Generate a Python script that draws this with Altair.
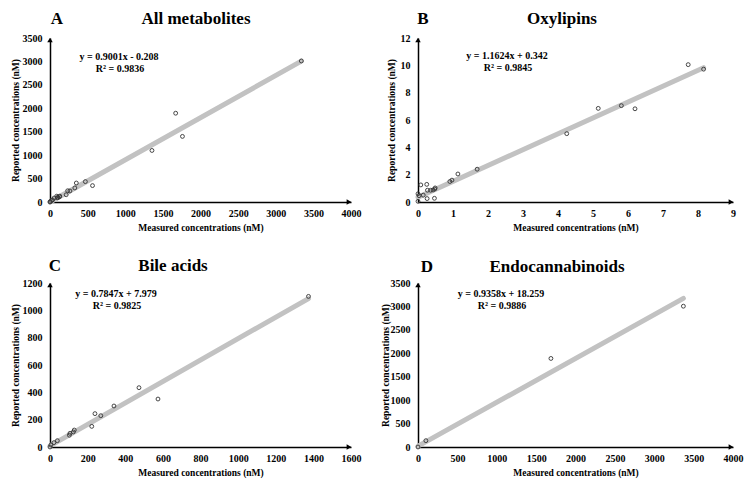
import altair as alt
import pandas as pd

FONT = "Liberation Serif"

# ---------------- data ----------------
# A: All metabolites
a_x = [0, 5, 20, 35, 55, 90, 100, 105, 125, 130, 215, 235, 265, 330, 350, 470, 565, 1355, 1670, 1760, 3340]
a_y = [0, 10, 30, 45, 85, 125, 90, 100, 110, 125, 155, 240, 235, 300, 405, 435, 350, 1100, 1895, 1400, 3010]
# B: Oxylipins
b_x = [0.00, 0.00, 0.03, 0.08, 0.15, 0.25, 0.27, 0.26, 0.36, 0.43, 0.47, 0.48, 0.49, 0.91, 0.97, 1.14, 1.69,
       4.25, 5.15, 5.81, 6.20, 7.72, 8.16]
b_y = [0.05, 0.60, 0.46, 1.25, 0.50, 1.29, 0.86, 0.25, 0.86, 0.88, 0.27, 0.95, 1.03, 1.50, 1.60, 2.05, 2.40,
       5.00, 6.85, 7.05, 6.82, 10.05, 9.72]
# C: Bile acids
c_x = [0, 5, 21, 39, 103, 106, 124, 129, 222, 239, 270, 340, 473, 574, 1374]
c_y = [0, 15, 32, 46, 86, 100, 110, 124, 151, 244, 229, 300, 434, 351, 1102]
# D: Endocannabinoids
d_x = [0, 100, 1688, 3370]
d_y = [0, 135, 1890, 3005]

letters = ["A", "B", "C", "D"]
titles = ["All metabolites", "Oxylipins", "Bile acids", "Endocannabinoids"]
fit_slope = [0.9001, 1.1624, 0.7847, 0.9358]
fit_intercept = [-0.208, 0.342, 7.979, 18.259]
fit_xmax = [3340, 8.16, 1374, 3370]
eq_text = ["y = 0.9001x - 0.208", "y = 1.1624x + 0.342", "y = 0.7847x + 7.979", "y = 0.9358x + 18.259"]
r2_text = ["R\u00b2 = 0.9836", "R\u00b2 = 0.9845", "R\u00b2 = 0.9825", "R\u00b2 = 0.9886"]
x_max = [4000, 9, 1600, 4000]
y_max = [3500, 12, 1200, 3500]
x_ticks = [list(range(0, 4001, 500)), list(range(0, 10, 1)), list(range(0, 1601, 200)), list(range(0, 4001, 500))]
y_ticks = [list(range(0, 3501, 500)), list(range(0, 13, 2)), list(range(0, 1201, 200)), list(range(0, 3501, 500))]
x_title = "Measured concentrations (nM)"
y_title = "Reported concentrations (nM)"

points = [(a_x, a_y), (b_x, b_y), (c_x, c_y), (d_x, d_y)]

# layout helpers (pixel positions of annotations relative to each plot area)
widths = [301, 315, 301, 315]
H = 164
eq_pos = [(69, 19), (89, 18), (66, 11), (83, 11)]
title_pos = [(146, -19), (144, -19), (123, -17), (139, -16)]
letter_pos = [(7, -19), (5, -19), (5, -17), (9, -16)]
ytitle_x = [-35, -27, -35, -33]


def panel(i):
    px, py = points[i]
    xs = alt.Scale(domain=[0, x_max[i]], nice=False)
    ys = alt.Scale(domain=[0, y_max[i]], nice=False)
    xax = alt.Axis(values=x_ticks[i], tickCount=len(x_ticks[i]) + 5, format="d", title=x_title)
    yax = alt.Axis(values=y_ticks[i], tickCount=len(y_ticks[i]) + 5, format="d", title=y_title,
                   titleX=ytitle_x[i], titleY=H / 2, titleBaseline="middle", titleAlign="center")

    fit_df = pd.DataFrame({"x": [0, fit_xmax[i]], "m": [fit_slope[i]] * 2, "b": [fit_intercept[i]] * 2})
    fit = (
        alt.Chart(fit_df)
        .transform_calculate(y="datum.m * datum.x + datum.b")
        .mark_line(color="#c2c2c2", strokeWidth=5, strokeCap="round")
        .encode(x=alt.X("x:Q", scale=xs, axis=xax), y=alt.Y("y:Q", scale=ys, axis=yax))
    )
    pts = (
        alt.Chart(pd.DataFrame({"x": px, "y": py}))
        .mark_point(shape="circle", filled=False, size=15, color="#333333", strokeWidth=0.9, opacity=1)
        .encode(x=alt.X("x:Q", scale=xs), y=alt.Y("y:Q", scale=ys))
    )
    arr_x = (
        alt.Chart(pd.DataFrame({"x": [x_max[i]], "y": [0]}))
        .mark_point(shape="triangle-right", filled=True, size=30, color="black", opacity=1, xOffset=-2)
        .encode(x=alt.X("x:Q", scale=xs), y=alt.Y("y:Q", scale=ys))
    )
    arr_y = (
        alt.Chart(pd.DataFrame({"x": [0], "y": [y_max[i]]}))
        .mark_point(shape="triangle-up", filled=True, size=30, color="black", opacity=1, yOffset=2)
        .encode(x=alt.X("x:Q", scale=xs), y=alt.Y("y:Q", scale=ys))
    )
    ex, ey = eq_pos[i]
    txt = pd.DataFrame({"eq": [eq_text[i]], "r2": [r2_text[i]], "t": [titles[i]], "l": [letters[i]]})
    eq1 = alt.Chart(txt).mark_text(font=FONT, fontWeight="bold", fontSize=10, color="black",
                                   baseline="middle").encode(
        text="eq:N", x=alt.value(ex), y=alt.value(ey))
    eq2 = alt.Chart(txt).mark_text(font=FONT, fontWeight="bold", fontSize=10, color="black",
                                   baseline="middle").encode(
        text="r2:N", x=alt.value(ex + 1), y=alt.value(ey + 11.5))
    tx, ty = title_pos[i]
    ttl = alt.Chart(txt).mark_text(font=FONT, fontWeight="bold", fontSize=17, color="black",
                                   baseline="middle").encode(
        text="t:N", x=alt.value(tx), y=alt.value(ty))
    lx, ly = letter_pos[i]
    let = alt.Chart(txt).mark_text(font=FONT, fontWeight="bold", fontSize=17, color="black",
                                   baseline="middle").encode(
        text="l:N", x=alt.value(lx), y=alt.value(ly))
    return alt.layer(fit, pts, arr_x, arr_y, eq1, eq2, ttl, let).properties(width=widths[i], height=H)


chart = (
    alt.concat(*[panel(i) for i in range(4)], columns=2, spacing={"column": 67, "row": 81}, bounds="flush")
    .properties(
        autosize=alt.AutoSizeParams(type="none"),
        padding={"left": 50, "top": 38, "right": 699, "bottom": 441},
        background="white",
    )
    .configure_view(stroke=None)
    .configure_axis(
        domainColor="black",
        domainWidth=1.5,
        ticks=False,
        tickSize=0,
        grid=False,
        labelOverlap=False,
        labelFlush=False,
        labelFont=FONT,
        labelFontWeight="bold",
        labelFontSize=10,
        labelColor="black",
        titleFont=FONT,
        titleFontWeight="bold",
        titleFontSize=9.5,
        titleColor="black",
    )
    .configure_axisX(labelPadding=6, titlePadding=4)
    .configure_axisY(labelPadding=8, titlePadding=5)
)

chart.save("out.html", embed_options={"renderer": "svg", "actions": False})
